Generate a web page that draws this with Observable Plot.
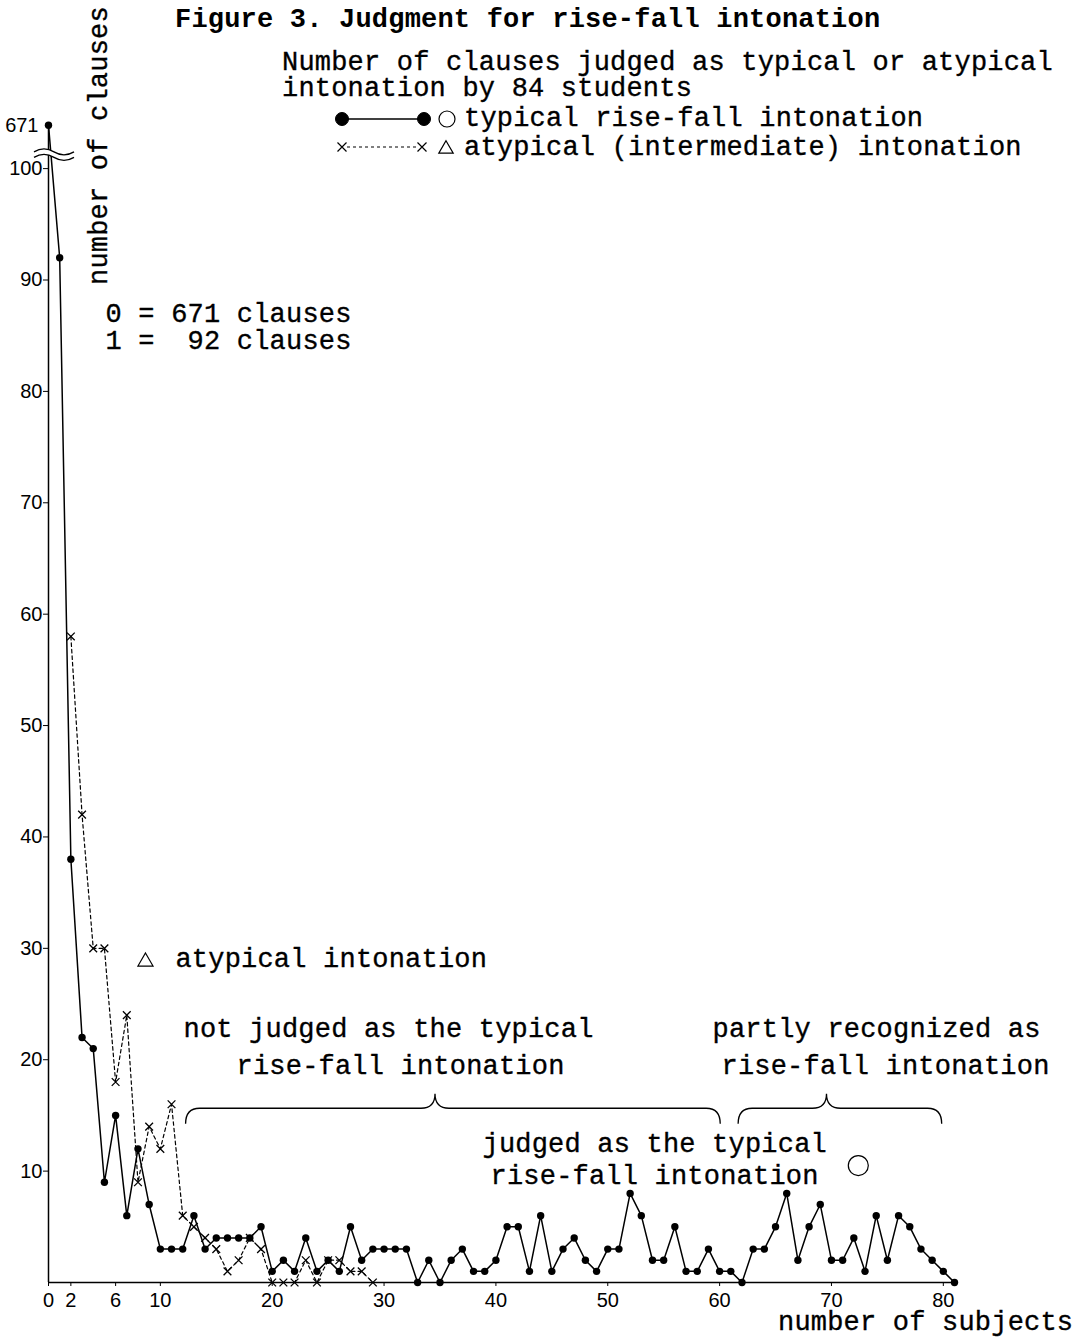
<!DOCTYPE html>
<html>
<head>
<meta charset="utf-8">
<script src="https://cdn.jsdelivr.net/npm/d3@7"></script>
<script src="https://cdn.jsdelivr.net/npm/@observablehq/plot@0.6"></script>
<style>
  html, body { margin: 0; padding: 0; background: #fff; }
  #chart { position: relative; width: 1087px; height: 1339px; }
  #chart svg { display: block; }
</style>
</head>
<body>
<div id="chart"></div>
<script>
// ---------------- data ----------------
const subjects = [
  0, 1, 2, 3, 4, 5, 6, 7, 8, 9,
  10, 11, 12, 13, 14, 15, 16, 17, 18, 19,
  20, 21, 22, 23, 24, 25, 26, 27, 28, 29,
  30, 31, 32, 33, 34, 35, 36, 37, 38, 39,
  40, 41, 42, 43, 44, 45, 46, 47, 48, 49,
  50, 51, 52, 53, 54, 55, 56, 57, 58, 59,
  60, 61, 62, 63, 64, 65, 66, 67, 68, 69,
  70, 71, 72, 73, 74, 75, 76, 77, 78, 79,
  80, 81
];
// clauses judged as typical rise-fall intonation (by n subjects)
const typicalCounts = [
  671, 92, 38, 22, 21, 9, 15, 6, 12, 7,
  3, 3, 3, 6, 3, 4, 4, 4, 4, 5,
  1, 2, 1, 4, 1, 2, 1, 5, 2, 3,
  3, 3, 3, 0, 2, 0, 2, 3, 1, 1,
  2, 5, 5, 1, 6, 1, 3, 4, 2, 1,
  3, 3, 8, 6, 2, 2, 5, 1, 1, 3,
  1, 1, 0, 3, 3, 5, 8, 2, 5, 7,
  2, 2, 4, 1, 6, 2, 6, 5, 3, 2,
  1, 0
];
// clauses judged as atypical (intermediate) intonation, subjects 0..29
const atypicalCounts = [
  null, null, 58, 42, 30, 30, 18, 24, 9, 14,
  12, 16, 6, 5, 4, 3, 1, 2, 4, 3,
  0, 0, 0, 2, 0, 2, 2, 1, 1, 0
];
const xTicks = [0, 2, 6, 10, 20, 30, 40, 50, 60, 70, 80];
const yTicks = [10, 20, 30, 40, 50, 60, 70, 80, 90, 100];
const yAxisMax = 100;          // regular part of the broken y axis
const yBreakSlot = 103.9;      // where values above the break are drawn

const annotations = [
  {x: 5.1, y: 86.2, text: "0 = 671 clauses"},
  {x: 5.1, y: 83.8, text: "1 = \u00a092 clauses"},
  {x: 11.35, y: 28.3, text: "atypical intonation"},
  {x: 12.07, y: 22.0, text: "not judged as the typical"},
  {x: 16.81, y: 18.74, text: "rise-fall intonation"},
  {x: 59.37, y: 22.0, text: "partly recognized as"},
  {x: 60.17, y: 18.74, text: "rise-fall intonation"},
  {x: 38.8, y: 11.7, text: "judged as the typical"},
  {x: 39.52, y: 8.86, text: "rise-fall intonation"}
];
const triangleNote = [{x: 8.67, y: 28.8}];
const circleNote = [{x: 72.4, y: 10.5}];
// braces: [start, tip, end] on subjects axis
const braces = [[12.3, 34.6, 60.1], [61.7, 69.6, 79.9]];
const braceLevels = {end: 14.2, line: 15.6, tip: 16.9};

// ---------------- table ----------------
const brk = v => (v > yAxisMax ? yBreakSlot : v);
const rows = subjects.map((s, i) => ({s, typical: typicalCounts[i], atypical: atypicalCounts[i]}));
const atypRows = rows.filter(d => d.atypical != null);
const bigValue = d3.max(typicalCounts);

const W = 1087, H = 1339;
const mono = "'Liberation Mono', 'Courier New', monospace";
const sans = "'Liberation Sans', Arial, sans-serif";

const plot = Plot.plot({
  width: W,
  height: H,
  marginLeft: 48,
  marginRight: 133,
  marginTop: 118,
  marginBottom: 57,
  style: {fontFamily: sans, fontSize: "20px", background: "#fff", color: "#000", overflow: "visible"},
  x: {domain: [0, d3.max(subjects)]},
  y: {domain: [0, 104.5]},
  marks: [
    Plot.ruleX([0], {y1: 0, y2: brk(bigValue), stroke: "#000", strokeWidth: 1.5}),
    Plot.ruleY([0], {x1: 0, x2: d3.max(subjects), stroke: "#000", strokeWidth: 1.5}),
    Plot.axisX({ticks: xTicks, tickSize: 4, tickPadding: 6, label: null, fontSize: 20}),
    Plot.axisY({ticks: yTicks, tickSize: 5, tickPadding: 1, label: null, fontSize: 20}),
    Plot.axisY({ticks: [brk(bigValue)], tickFormat: () => String(bigValue), tickSize: 0, tickPadding: 10, label: null, fontSize: 20}),
    Plot.line(atypRows, {x: "s", y: d => brk(d.atypical), stroke: "#000", strokeWidth: 1.2, strokeDasharray: "3.5,3"}),
    Plot.dot(atypRows, {x: "s", y: d => brk(d.atypical), symbol: "times", r: 3.6, stroke: "#000", strokeWidth: 1.3}),
    Plot.line(rows, {x: "s", y: d => brk(d.typical), stroke: "#000", strokeWidth: 1.5}),
    Plot.dot(rows, {x: "s", y: d => brk(d.typical), r: 3.7, fill: "#000", stroke: "none"}),
    Plot.text(annotations, {x: "x", y: "y", text: "text", textAnchor: "start", lineAnchor: "bottom",
      fontFamily: mono, fontSize: 27, fill: "#000", stroke: "#000", strokeWidth: 0.35}),
    Plot.dot(triangleNote, {x: "x", y: "y", symbol: "triangle", r: 5.6, stroke: "#000", strokeWidth: 1.2, fill: "none"}),
    Plot.dot(circleNote, {x: "x", y: "y", symbol: "circle", r: 10, stroke: "#000", strokeWidth: 1.2, fill: "none"})
  ]
});

document.getElementById("chart").appendChild(plot);

// ---------------- decorations using the plot scales ----------------
const xs = plot.scale("x"), ys = plot.scale("y");
const X = d3.scaleLinear(xs.domain, xs.range);
const Y = d3.scaleLinear(ys.domain, ys.range);
const svg = d3.select(plot);

// typewriter letter spacing on annotation texts
svg.selectAll("text").each(function() {
  const g = this.closest("[font-family]");
  if (g && g.getAttribute("font-family") === mono) this.setAttribute("letter-spacing", "0.2px");
});

// braces
function bracePath([a0, m0, b0]) {
  const a = X(a0), m = X(m0), b = X(b0);
  const yl = Y(braceLevels.line), ye = Y(braceLevels.end), yp = Y(braceLevels.tip);
  const r = 14;
  return `M${a},${ye} Q${a},${yl} ${a + r},${yl} L${m - r},${yl} Q${m},${yl} ${m},${yp} ` +
         `Q${m},${yl} ${m + r},${yl} L${b - r},${yl} Q${b},${yl} ${b},${ye}`;
}
svg.append("g").attr("fill", "none").attr("stroke", "#000").attr("stroke-width", 1.3)
  .selectAll("path").data(braces).join("path").attr("d", bracePath);

// axis break mark
const yb = Y(yAxisMax) - 13.5, bx = X(0) - 14;
const wave = (y) => `M${bx},${y} q10,-6 20,0 t20,0`;
svg.append("path").attr("d", wave(yb)).attr("fill", "none").attr("stroke", "#fff").attr("stroke-width", 5);
svg.append("path").attr("d", wave(yb - 2.8)).attr("fill", "none").attr("stroke", "#000").attr("stroke-width", 1.3);
svg.append("path").attr("d", wave(yb + 2.8)).attr("fill", "none").attr("stroke", "#000").attr("stroke-width", 1.3);

// titles, axis labels, legend
const tg = svg.append("g").attr("font-family", mono).attr("font-size", 27).attr("fill", "#000")
  .attr("text-anchor", "start").attr("letter-spacing", "0.2px").attr("stroke", "#000").attr("stroke-width", 0.35);
tg.append("text").attr("x", 175).attr("y", 27).attr("font-weight", "bold").attr("stroke-width", 0).text("Figure 3. Judgment for rise-fall intonation");
tg.append("text").attr("x", 282).attr("y", 70).text("Number of clauses judged as typical or atypical");
tg.append("text").attr("x", 282).attr("y", 96).text("intonation by 84 students");
tg.append("text").attr("x", 464).attr("y", 126).text("typical rise-fall intonation");
tg.append("text").attr("x", 464).attr("y", 155).text("atypical (intermediate) intonation");
tg.append("text").attr("transform", "translate(107,285) rotate(-90)").text("number of clauses");
tg.append("text").attr("x", 778).attr("y", 1330).text("number of subjects");

// legend symbols
const lg = svg.append("g").attr("stroke", "#000");
lg.append("line").attr("x1", 342).attr("x2", 424).attr("y1", 119).attr("y2", 119).attr("stroke-width", 1.4);
lg.append("circle").attr("cx", 342).attr("cy", 119).attr("r", 6.5).attr("fill", "#000");
lg.append("circle").attr("cx", 424).attr("cy", 119).attr("r", 6.5).attr("fill", "#000");
lg.append("circle").attr("cx", 447).attr("cy", 119).attr("r", 8).attr("fill", "none").attr("stroke-width", 1.2);
lg.append("line").attr("x1", 347).attr("x2", 417).attr("y1", 147).attr("y2", 147).attr("stroke-width", 1.1).attr("stroke-dasharray", "3,3");
const cross = (cx, cy, s) => `M${cx - s},${cy - s}L${cx + s},${cy + s}M${cx - s},${cy + s}L${cx + s},${cy - s}`;
lg.append("path").attr("d", cross(342, 147, 4.5) + cross(422, 147, 4.5)).attr("fill", "none").attr("stroke-width", 1.2);
lg.append("path").attr("d", d3.symbol(d3.symbolTriangle, 90)()).attr("transform", "translate(446,149)").attr("fill", "none").attr("stroke-width", 1.2);
</script>
</body>
</html>
